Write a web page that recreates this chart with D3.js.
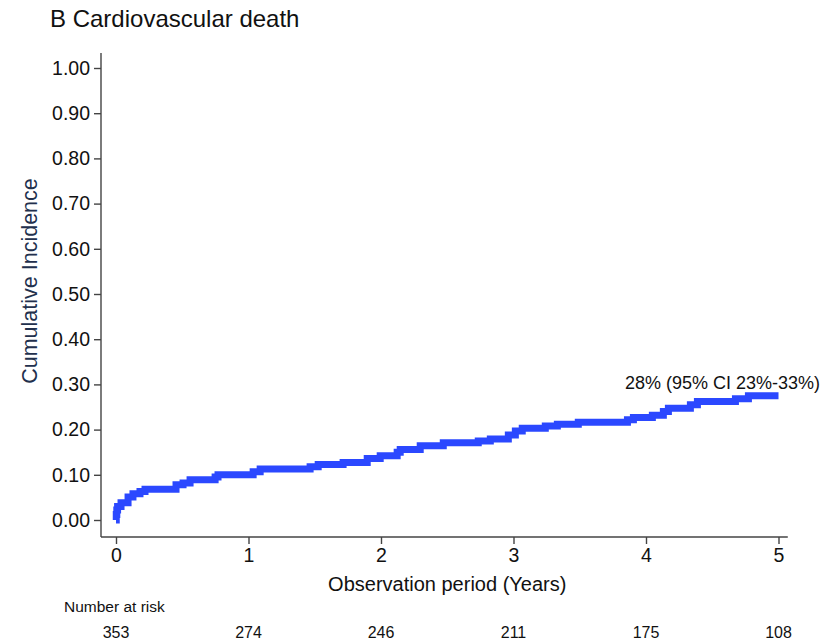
<!DOCTYPE html>
<html lang="en">
<head>
    <meta charset="UTF-8">
    <title>B Cardiovascular death</title>
    <script src="https://cdnjs.cloudflare.com/ajax/libs/d3/7.8.5/d3.min.js"></script>
    <style>
        body { margin: 0; background: #fff; }
        text { font-family: "Liberation Sans", Arial, sans-serif; fill: #111; }
        .narrow { font-family: "Liberation Sans Narrow", "Liberation Sans", Arial, sans-serif; }
        .axis path, .axis line { stroke: #444; stroke-width: 1.4; }
    </style>
</head>
<body>
<div id="chart"></div>
<script>
    const width = 833, height = 641;

    // step times (years) and cumulative incidence after each step
    const times = [0, 0.002, 0.006, 0.012, 0.038, 0.091, 0.128, 0.181, 0.219, 0.453, 0.506, 0.559,
        0.748, 0.770, 1.035, 1.088, 1.465, 1.526, 1.714, 1.896, 1.994, 2.122, 2.145, 2.296, 2.470,
        2.734, 2.825, 2.961, 3.014, 3.066, 3.240, 3.331, 3.489, 3.860, 3.905, 4.048, 4.131, 4.169,
        4.335, 4.388, 4.675, 4.773, 5.0];
    const incidence = [0, 0.012, 0.022, 0.030, 0.038, 0.051, 0.058, 0.063, 0.068, 0.078, 0.082, 0.089,
        0.095, 0.100, 0.107, 0.113, 0.118, 0.123, 0.127, 0.136, 0.142, 0.150, 0.156, 0.164, 0.171,
        0.175, 0.179, 0.188, 0.197, 0.203, 0.208, 0.212, 0.216, 0.222, 0.227, 0.232, 0.240, 0.247,
        0.255, 0.262, 0.268, 0.275, 0.275];

    const yTicks = [0, 0.1, 0.2, 0.3, 0.4, 0.5, 0.6, 0.7, 0.8, 0.9, 1.0];
    const xTicks = [0, 1, 2, 3, 4, 5];
    const atRisk = [353, 274, 246, 211, 175, 108];
    const annotation = "28% (95% CI 23%-33%)";

    const svg = d3.select("#chart").append("svg")
        .attr("width", width)
        .attr("height", height);

    const x = d3.scaleLinear().domain([0, 5]).range([116, 778.5]);
    const y = d3.scaleLinear().domain([0, 1]).range([520, 68]);

    // axis lines run a bit past the tick range
    svg.append("line")
        .attr("x1", 101).attr("x2", 101)
        .attr("y1", y(1.033)).attr("y2", 537)
        .attr("stroke", "#444").attr("stroke-width", 1.4);
    svg.append("line")
        .attr("x1", 101).attr("x2", x(5.07))
        .attr("y1", 537).attr("y2", 537)
        .attr("stroke", "#444").attr("stroke-width", 1.4);

    const yAxis = svg.append("g")
        .attr("class", "axis")
        .attr("transform", "translate(101,0)")
        .call(d3.axisLeft(y).tickValues(yTicks).tickFormat(d3.format(".2f")).tickSize(7).tickPadding(4));
    yAxis.select(".domain").remove();
    yAxis.selectAll("text").attr("font-size", 19.5).attr("fill", "#111");

    const xAxis = svg.append("g")
        .attr("class", "axis")
        .attr("transform", "translate(0,537)")
        .call(d3.axisBottom(x).tickValues(xTicks).tickFormat(d3.format("d")).tickSize(7).tickPadding(4));
    xAxis.select(".domain").remove();
    xAxis.selectAll("text").attr("font-size", 19.5).attr("fill", "#111");

    // curve
    const pts = times.map((t, i) => [t, incidence[i]]);
    svg.append("path")
        .datum(pts)
        .attr("fill", "none")
        .attr("stroke", "#2b48ff")
        .attr("stroke-width", 7)
        .attr("d", d3.line().x(d => x(d[0])).y(d => y(d[1])).curve(d3.curveStepAfter));

    svg.append("text")
        .attr("x", 625).attr("y", 389)
        .attr("font-size", 18)
        .text(annotation);

    // titles
    svg.append("text")
        .attr("x", 50).attr("y", 27)
        .attr("font-size", 24)
        .text("B Cardiovascular death");

    svg.append("text")
        .attr("transform", "translate(37,281) rotate(-90)")
        .attr("text-anchor", "middle")
        .attr("font-size", 21.5)
        .style("fill", "#22304d")
        .text("Cumulative Incidence");

    svg.append("text")
        .attr("x", x(2.5)).attr("y", 591)
        .attr("text-anchor", "middle")
        .attr("font-size", 20)
        .text("Observation period (Years)");

    // number at risk
    svg.append("text")
        .attr("class", "narrow")
        .attr("x", 64).attr("y", 612)
        .attr("font-size", 15.5)
        .text("Number at risk");

    svg.selectAll(".risk")
        .data(atRisk)
        .enter()
        .append("text")
        .attr("class", "narrow")
        .attr("x", (d, i) => x(xTicks[i]))
        .attr("y", 638)
        .attr("text-anchor", "middle")
        .attr("font-size", 16)
        .text(d => d);
</script>
</body>
</html>
